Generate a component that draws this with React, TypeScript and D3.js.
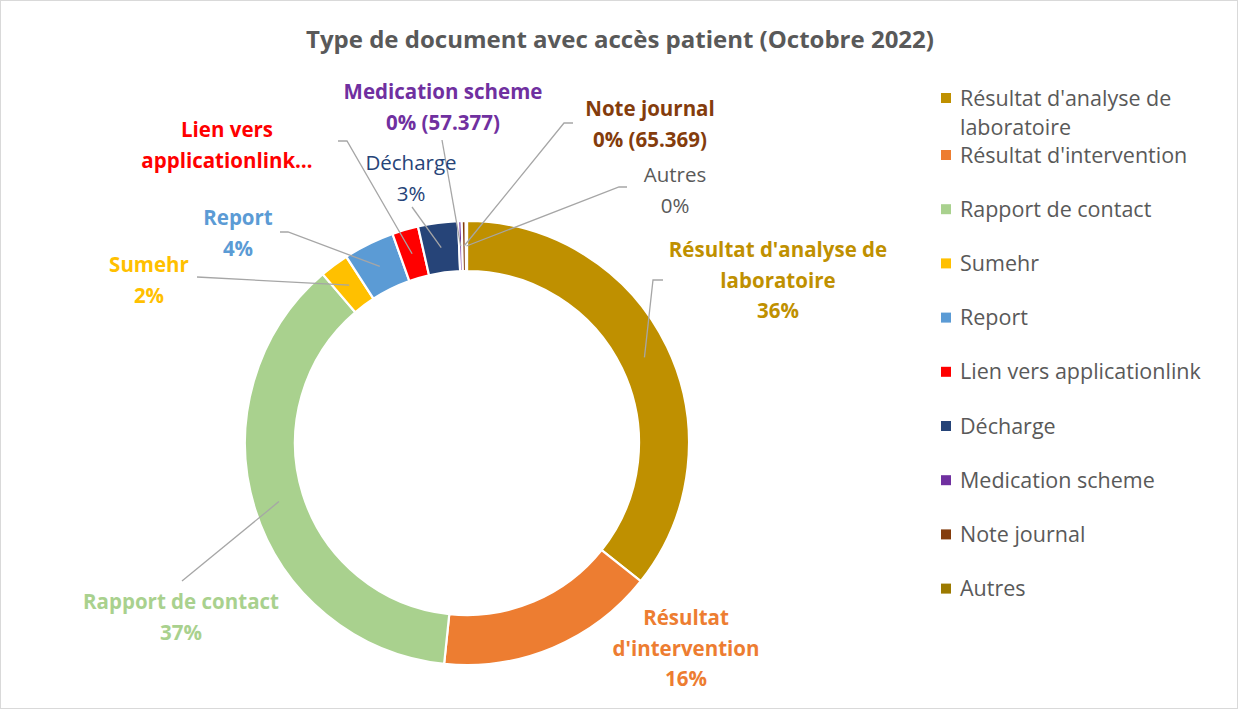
import * as d3 from 'd3'

// Données (octobre 2022)
const categories = [
  "Résultat d'analyse de laboratoire",
  "Résultat d'intervention",
  'Rapport de contact',
  'Sumehr',
  'Report',
  'Lien vers applicationlink',
  'Décharge',
  'Medication scheme',
  'Note journal',
  'Autres',
]
const counts = [8010000, 3578000, 8325000, 472000, 832000, 427000, 652000, 57377, 65369, 20000]
const showCount = [false, false, false, false, false, false, false, true, true, false]

const colors = ['#BF9000', '#ED7D31', '#A9D18E', '#FFC000', '#5B9BD5', '#FF0000', '#264478', '#7030A0', '#843C0C', '#9C7A00']
const labelColors = ['#BF9000', '#ED7D31', '#A9D18E', '#FFC000', '#5B9BD5', '#FF0000', '#264478', '#7030A0', '#843C0C', '#595959']

// Mise en page des étiquettes (texte coupé comme dans Excel)
const labelLayout = [
  { x: 778, y: 250, bold: true, lines: ["Résultat d'analyse de", 'laboratoire', '{p}'], leader: [[663, 280], [653, 280]] },
  { x: 686, y: 618, bold: true, lines: ['Résultat', "d'intervention", '{p}'], leader: null },
  { x: 181, y: 602, bold: true, lines: ['Rapport de contact', '{p}'], leader: [[182, 581]] },
  { x: 149, y: 265, bold: true, lines: ['Sumehr', '{p}'], leader: [[197, 277]] },
  { x: 238, y: 218, bold: true, lines: ['Report', '{p}'], leader: [[280, 232], [288, 232]] },
  { x: 227, y: 130, bold: true, lines: ['Lien vers', 'applicationlink…'], leader: [[338, 141], [347, 141]] },
  { x: 411, y: 163, bold: false, lines: ['Décharge', '{p}'], leader: [[412, 207]] },
  { x: 443, y: 92, bold: true, lines: ['Medication scheme', '{p}'], leader: [[442, 140]] },
  { x: 650, y: 109, bold: true, lines: ['Note journal', '{p}'], leader: [[573, 123], [564, 123]] },
  { x: 675, y: 175, bold: false, lines: ['Autres', '{p}'], leader: [[627, 187], [619, 187]] },
]

const FONT = '"Open Sans", "Noto Sans", sans-serif'
const fmtCount = d3.formatLocale({ decimal: ',', thousands: '.', grouping: [3], currency: ['', '€'] }).format(',d')

export default function App() {
  const width = 1240
  const height = 711
  const cx = 467
  const cy = 443
  const outerR = 222
  const innerR = 172

  const total = d3.sum(counts)
  const pie = d3.pie<number>().sort(null).value(d => d)
  const arcs = pie(counts)
  const arc = d3.arc<d3.PieArcDatum<number>>().innerRadius(innerR).outerRadius(outerR)

  const pct = (i: number) => {
    let s = Math.round((counts[i] / total) * 100) + '%'
    if (showCount[i]) s += ` (${fmtCount(counts[i])})`
    return s
  }

  const lineH = 30.5

  return (
    <svg width={width} height={height} style={{ position: 'absolute', left: 0, top: 0, fontFamily: FONT }}>
      <rect x={0} y={0} width={width} height={height} fill="#fff" />
      <rect x={0.5} y={0.5} width={1237} height={708} fill="none" stroke="#D9D9D9" />

      <text x={620} y={40} dy="0.35em" textAnchor="middle" fontSize={24} fontWeight="bold" fill="#595959">
        Type de document avec accès patient (Octobre 2022)
      </text>

      <g transform={`translate(${cx},${cy})`}>
        {arcs.map((a, i) => (
          <path key={i} d={arc(a) || ''} fill={colors[i]} stroke="#fff" strokeWidth={2.2} />
        ))}
      </g>

      {/* lignes de rappel */}
      {labelLayout.map((l, i) => {
        if (!l.leader) return null
        const [mx, my] = arc.centroid(arcs[i])
        const pts = [...l.leader, [cx + mx, cy + my]]
        return (
          <polyline key={i} points={pts.map(p => p.join(',')).join(' ')} fill="none" stroke="#A6A6A6" strokeWidth={1.3} />
        )
      })}

      {/* étiquettes */}
      {labelLayout.map((l, i) => (
        <text key={i} fontSize={20.5} fontWeight={l.bold ? 'bold' : 'normal'} fill={labelColors[i]} textAnchor="middle">
          {l.lines.map((t, j) => (
            <tspan key={j} x={l.x} y={l.y + j * lineH} dy="0.35em">
              {t === '{p}' ? pct(i) : t}
            </tspan>
          ))}
        </text>
      ))}

      {/* légende */}
      {categories.map((c, i) => {
        const y = i === 0 ? 98 : 155 + (i - 1) * 54.2
        const first = i === 0
        return (
          <g key={c}>
            <rect x={941} y={y - 5} width={10} height={10} fill={colors[i]} />
            <text fontSize={21.5} fill="#595959">
              {first ? (
                <>
                  <tspan x={960} y={y} dy="0.35em">Résultat d'analyse de</tspan>
                  <tspan x={960} y={y + 29} dy="0.35em">laboratoire</tspan>
                </>
              ) : (
                <tspan x={960} y={y} dy="0.35em">{c}</tspan>
              )}
            </text>
          </g>
        )
      })}
    </svg>
  )
}
